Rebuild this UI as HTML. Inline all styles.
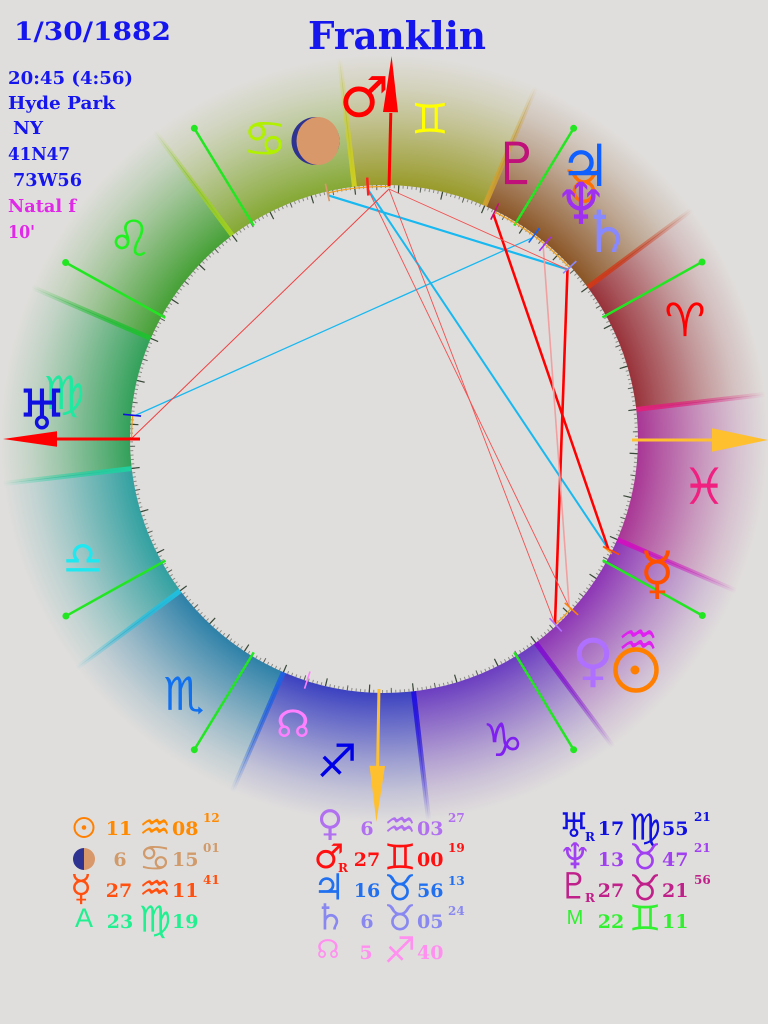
<!DOCTYPE html>
<html><head><meta charset="utf-8">
<style>
html,body{margin:0;padding:0;background:#e0dedc;}
svg{display:block}
.s{font-family:"DejaVu Serif","Liberation Serif",serif;font-weight:bold}
.g{font-family:"DejaVu Sans","Liberation Sans",sans-serif}
</style></head><body>
<svg width="768" height="1024" viewBox="0 0 768 1024" xmlns="http://www.w3.org/2000/svg">
<defs>
<radialGradient id="r0" gradientUnits="userSpaceOnUse" cx="384" cy="438" r="392"><stop offset=".645" stop-color="#983038"/><stop offset=".70" stop-color="#983038" stop-opacity=".8"/><stop offset=".76" stop-color="#983038" stop-opacity=".6"/><stop offset=".82" stop-color="#983038" stop-opacity=".4"/><stop offset=".90" stop-color="#983038" stop-opacity=".17"/><stop offset=".98" stop-color="#983038" stop-opacity="0"/></radialGradient>
<radialGradient id="r1" gradientUnits="userSpaceOnUse" cx="384" cy="438" r="392"><stop offset=".645" stop-color="#8a5424"/><stop offset=".70" stop-color="#8a5424" stop-opacity=".8"/><stop offset=".76" stop-color="#8a5424" stop-opacity=".6"/><stop offset=".82" stop-color="#8a5424" stop-opacity=".4"/><stop offset=".90" stop-color="#8a5424" stop-opacity=".17"/><stop offset=".98" stop-color="#8a5424" stop-opacity="0"/></radialGradient>
<radialGradient id="r2" gradientUnits="userSpaceOnUse" cx="384" cy="438" r="392"><stop offset=".645" stop-color="#989a28"/><stop offset=".70" stop-color="#989a28" stop-opacity=".8"/><stop offset=".76" stop-color="#989a28" stop-opacity=".6"/><stop offset=".82" stop-color="#989a28" stop-opacity=".4"/><stop offset=".90" stop-color="#989a28" stop-opacity=".17"/><stop offset=".98" stop-color="#989a28" stop-opacity="0"/></radialGradient>
<radialGradient id="r3" gradientUnits="userSpaceOnUse" cx="384" cy="438" r="392"><stop offset=".645" stop-color="#84a832"/><stop offset=".70" stop-color="#84a832" stop-opacity=".8"/><stop offset=".76" stop-color="#84a832" stop-opacity=".6"/><stop offset=".82" stop-color="#84a832" stop-opacity=".4"/><stop offset=".90" stop-color="#84a832" stop-opacity=".17"/><stop offset=".98" stop-color="#84a832" stop-opacity="0"/></radialGradient>
<radialGradient id="r4" gradientUnits="userSpaceOnUse" cx="384" cy="438" r="392"><stop offset=".645" stop-color="#44a034"/><stop offset=".70" stop-color="#44a034" stop-opacity=".8"/><stop offset=".76" stop-color="#44a034" stop-opacity=".6"/><stop offset=".82" stop-color="#44a034" stop-opacity=".4"/><stop offset=".90" stop-color="#44a034" stop-opacity=".17"/><stop offset=".98" stop-color="#44a034" stop-opacity="0"/></radialGradient>
<radialGradient id="r5" gradientUnits="userSpaceOnUse" cx="384" cy="438" r="392"><stop offset=".645" stop-color="#30a058"/><stop offset=".70" stop-color="#30a058" stop-opacity=".8"/><stop offset=".76" stop-color="#30a058" stop-opacity=".6"/><stop offset=".82" stop-color="#30a058" stop-opacity=".4"/><stop offset=".90" stop-color="#30a058" stop-opacity=".17"/><stop offset=".98" stop-color="#30a058" stop-opacity="0"/></radialGradient>
<radialGradient id="r6" gradientUnits="userSpaceOnUse" cx="384" cy="438" r="392"><stop offset=".645" stop-color="#30a0a0"/><stop offset=".70" stop-color="#30a0a0" stop-opacity=".8"/><stop offset=".76" stop-color="#30a0a0" stop-opacity=".6"/><stop offset=".82" stop-color="#30a0a0" stop-opacity=".4"/><stop offset=".90" stop-color="#30a0a0" stop-opacity=".17"/><stop offset=".98" stop-color="#30a0a0" stop-opacity="0"/></radialGradient>
<radialGradient id="r7" gradientUnits="userSpaceOnUse" cx="384" cy="438" r="392"><stop offset=".645" stop-color="#2c80a8"/><stop offset=".70" stop-color="#2c80a8" stop-opacity=".8"/><stop offset=".76" stop-color="#2c80a8" stop-opacity=".6"/><stop offset=".82" stop-color="#2c80a8" stop-opacity=".4"/><stop offset=".90" stop-color="#2c80a8" stop-opacity=".17"/><stop offset=".98" stop-color="#2c80a8" stop-opacity="0"/></radialGradient>
<radialGradient id="r8" gradientUnits="userSpaceOnUse" cx="384" cy="438" r="392"><stop offset=".645" stop-color="#3a40c0"/><stop offset=".70" stop-color="#3a40c0" stop-opacity=".8"/><stop offset=".76" stop-color="#3a40c0" stop-opacity=".6"/><stop offset=".82" stop-color="#3a40c0" stop-opacity=".4"/><stop offset=".90" stop-color="#3a40c0" stop-opacity=".17"/><stop offset=".98" stop-color="#3a40c0" stop-opacity="0"/></radialGradient>
<radialGradient id="r9" gradientUnits="userSpaceOnUse" cx="384" cy="438" r="392"><stop offset=".645" stop-color="#6a3cc0"/><stop offset=".70" stop-color="#6a3cc0" stop-opacity=".8"/><stop offset=".76" stop-color="#6a3cc0" stop-opacity=".6"/><stop offset=".82" stop-color="#6a3cc0" stop-opacity=".4"/><stop offset=".90" stop-color="#6a3cc0" stop-opacity=".17"/><stop offset=".98" stop-color="#6a3cc0" stop-opacity="0"/></radialGradient>
<radialGradient id="r10" gradientUnits="userSpaceOnUse" cx="384" cy="438" r="392"><stop offset=".645" stop-color="#8c34b4"/><stop offset=".70" stop-color="#8c34b4" stop-opacity=".8"/><stop offset=".76" stop-color="#8c34b4" stop-opacity=".6"/><stop offset=".82" stop-color="#8c34b4" stop-opacity=".4"/><stop offset=".90" stop-color="#8c34b4" stop-opacity=".17"/><stop offset=".98" stop-color="#8c34b4" stop-opacity="0"/></radialGradient>
<radialGradient id="r11" gradientUnits="userSpaceOnUse" cx="384" cy="438" r="392"><stop offset=".645" stop-color="#a83494"/><stop offset=".70" stop-color="#a83494" stop-opacity=".8"/><stop offset=".76" stop-color="#a83494" stop-opacity=".6"/><stop offset=".82" stop-color="#a83494" stop-opacity=".4"/><stop offset=".90" stop-color="#a83494" stop-opacity=".17"/><stop offset=".98" stop-color="#a83494" stop-opacity="0"/></radialGradient>

<radialGradient id="s0" gradientUnits="userSpaceOnUse" cx="384" cy="438" r="392"><stop offset=".64" stop-color="#e0207a"/><stop offset=".75" stop-color="#e0207a" stop-opacity=".75"/><stop offset=".86" stop-color="#e0207a" stop-opacity=".4"/><stop offset=".98" stop-color="#e0207a" stop-opacity="0"/></radialGradient>
<radialGradient id="s1" gradientUnits="userSpaceOnUse" cx="384" cy="438" r="392"><stop offset=".64" stop-color="#d03818"/><stop offset=".75" stop-color="#d03818" stop-opacity=".75"/><stop offset=".86" stop-color="#d03818" stop-opacity=".4"/><stop offset=".98" stop-color="#d03818" stop-opacity="0"/></radialGradient>
<radialGradient id="s2" gradientUnits="userSpaceOnUse" cx="384" cy="438" r="392"><stop offset=".64" stop-color="#d0a030"/><stop offset=".75" stop-color="#d0a030" stop-opacity=".75"/><stop offset=".86" stop-color="#d0a030" stop-opacity=".4"/><stop offset=".98" stop-color="#d0a030" stop-opacity="0"/></radialGradient>
<radialGradient id="s3" gradientUnits="userSpaceOnUse" cx="384" cy="438" r="392"><stop offset=".64" stop-color="#d0d020"/><stop offset=".75" stop-color="#d0d020" stop-opacity=".75"/><stop offset=".86" stop-color="#d0d020" stop-opacity=".4"/><stop offset=".98" stop-color="#d0d020" stop-opacity="0"/></radialGradient>
<radialGradient id="s4" gradientUnits="userSpaceOnUse" cx="384" cy="438" r="392"><stop offset=".64" stop-color="#a0d020"/><stop offset=".75" stop-color="#a0d020" stop-opacity=".75"/><stop offset=".86" stop-color="#a0d020" stop-opacity=".4"/><stop offset=".98" stop-color="#a0d020" stop-opacity="0"/></radialGradient>
<radialGradient id="s5" gradientUnits="userSpaceOnUse" cx="384" cy="438" r="392"><stop offset=".64" stop-color="#20c030"/><stop offset=".75" stop-color="#20c030" stop-opacity=".75"/><stop offset=".86" stop-color="#20c030" stop-opacity=".4"/><stop offset=".98" stop-color="#20c030" stop-opacity="0"/></radialGradient>
<radialGradient id="s6" gradientUnits="userSpaceOnUse" cx="384" cy="438" r="392"><stop offset=".64" stop-color="#20d0a0"/><stop offset=".75" stop-color="#20d0a0" stop-opacity=".75"/><stop offset=".86" stop-color="#20d0a0" stop-opacity=".4"/><stop offset=".98" stop-color="#20d0a0" stop-opacity="0"/></radialGradient>
<radialGradient id="s7" gradientUnits="userSpaceOnUse" cx="384" cy="438" r="392"><stop offset=".64" stop-color="#20c0e0"/><stop offset=".75" stop-color="#20c0e0" stop-opacity=".75"/><stop offset=".86" stop-color="#20c0e0" stop-opacity=".4"/><stop offset=".98" stop-color="#20c0e0" stop-opacity="0"/></radialGradient>
<radialGradient id="s8" gradientUnits="userSpaceOnUse" cx="384" cy="438" r="392"><stop offset=".64" stop-color="#2060e0"/><stop offset=".75" stop-color="#2060e0" stop-opacity=".75"/><stop offset=".86" stop-color="#2060e0" stop-opacity=".4"/><stop offset=".98" stop-color="#2060e0" stop-opacity="0"/></radialGradient>
<radialGradient id="s9" gradientUnits="userSpaceOnUse" cx="384" cy="438" r="392"><stop offset=".64" stop-color="#2010e0"/><stop offset=".75" stop-color="#2010e0" stop-opacity=".75"/><stop offset=".86" stop-color="#2010e0" stop-opacity=".4"/><stop offset=".98" stop-color="#2010e0" stop-opacity="0"/></radialGradient>
<radialGradient id="s10" gradientUnits="userSpaceOnUse" cx="384" cy="438" r="392"><stop offset=".64" stop-color="#8010d0"/><stop offset=".75" stop-color="#8010d0" stop-opacity=".75"/><stop offset=".86" stop-color="#8010d0" stop-opacity=".4"/><stop offset=".98" stop-color="#8010d0" stop-opacity="0"/></radialGradient>
<radialGradient id="s11" gradientUnits="userSpaceOnUse" cx="384" cy="438" r="392"><stop offset=".64" stop-color="#d010c0"/><stop offset=".75" stop-color="#d010c0" stop-opacity=".75"/><stop offset=".86" stop-color="#d010c0" stop-opacity=".4"/><stop offset=".98" stop-color="#d010c0" stop-opacity="0"/></radialGradient>
</defs>

<rect width="768" height="1024" fill="#e0dedc"/>

<g transform="translate(0,1)">
<!-- sign sectors -->
<path d="M384,438 L773.34,392.40 A392,392 0 0 0 698.38,203.84 Z" fill="url(#r0)" stroke="url(#r0)" stroke-width="0.8"/>
<path d="M384,438 L698.38,203.84 A392,392 0 0 0 539.18,78.02 Z" fill="url(#r1)" stroke="url(#r1)" stroke-width="0.8"/>
<path d="M384,438 L539.18,78.02 A392,392 0 0 0 338.40,48.66 Z" fill="url(#r2)" stroke="url(#r2)" stroke-width="0.8"/>
<path d="M384,438 L338.40,48.66 A392,392 0 0 0 149.84,123.62 Z" fill="url(#r3)" stroke="url(#r3)" stroke-width="0.8"/>
<path d="M384,438 L149.84,123.62 A392,392 0 0 0 24.02,282.82 Z" fill="url(#r4)" stroke="url(#r4)" stroke-width="0.8"/>
<path d="M384,438 L24.02,282.82 A392,392 0 0 0 -5.34,483.60 Z" fill="url(#r5)" stroke="url(#r5)" stroke-width="0.8"/>
<path d="M384,438 L-5.34,483.60 A392,392 0 0 0 69.62,672.16 Z" fill="url(#r6)" stroke="url(#r6)" stroke-width="0.8"/>
<path d="M384,438 L69.62,672.16 A392,392 0 0 0 228.82,797.98 Z" fill="url(#r7)" stroke="url(#r7)" stroke-width="0.8"/>
<path d="M384,438 L228.82,797.98 A392,392 0 0 0 429.60,827.34 Z" fill="url(#r8)" stroke="url(#r8)" stroke-width="0.8"/>
<path d="M384,438 L429.60,827.34 A392,392 0 0 0 618.16,752.38 Z" fill="url(#r9)" stroke="url(#r9)" stroke-width="0.8"/>
<path d="M384,438 L618.16,752.38 A392,392 0 0 0 743.98,593.18 Z" fill="url(#r10)" stroke="url(#r10)" stroke-width="0.8"/>
<path d="M384,438 L743.98,593.18 A392,392 0 0 0 773.34,392.40 Z" fill="url(#r11)" stroke="url(#r11)" stroke-width="0.8"/>

<!-- sign boundary streaks -->
<g stroke-width="5" stroke-linecap="butt">
<line x1="636.28" y1="408.45" x2="766.39" y2="393.22" stroke="url(#s0)"/>
<line x1="587.70" y1="286.27" x2="692.76" y2="208.02" stroke="url(#s1)"/>
<line x1="484.55" y1="204.75" x2="536.41" y2="84.45" stroke="url(#s2)"/>
<line x1="354.45" y1="185.72" x2="339.22" y2="55.61" stroke="url(#s3)"/>
<line x1="232.27" y1="234.30" x2="154.02" y2="129.24" stroke="url(#s4)"/>
<line x1="150.75" y1="337.45" x2="30.45" y2="285.59" stroke="url(#s5)"/>
<line x1="131.72" y1="467.55" x2="1.61" y2="482.78" stroke="url(#s6)"/>
<line x1="180.30" y1="589.73" x2="75.24" y2="667.98" stroke="url(#s7)"/>
<line x1="283.45" y1="671.25" x2="231.59" y2="791.55" stroke="url(#s8)"/>
<line x1="413.55" y1="690.28" x2="428.78" y2="820.39" stroke="url(#s9)"/>
<line x1="535.73" y1="641.70" x2="613.98" y2="746.76" stroke="url(#s10)"/>
<line x1="617.25" y1="538.55" x2="737.55" y2="590.41" stroke="url(#s11)"/>
</g>

<!-- inner disc -->
<circle cx="384" cy="438" r="254" fill="#e0dedc"/>

<!-- degree ticks -->
<circle cx="384" cy="438" r="252.5" fill="none" stroke="#8a8a84" stroke-width="3" stroke-dasharray="1 3.40695" stroke-dashoffset="-0.9102"/>
<circle cx="384" cy="438" r="251.5" fill="none" stroke="#5a625a" stroke-width="5" stroke-dasharray="1 20.947" stroke-dashoffset="-14.073"/>
<circle cx="384" cy="438" r="250" fill="none" stroke="#3a4a3a" stroke-width="8" stroke-dasharray="1.2 42.433" stroke-dashoffset="-13.886"/>

<!-- house cusps -->
<g stroke="#22e622" stroke-width="2.5">
<line x1="602.45" y1="316.41" x2="702.06" y2="260.97"/>
<line x1="514.25" y1="224.61" x2="573.65" y2="127.31"/>
<line x1="253.75" y1="224.61" x2="194.35" y2="127.31"/>
<line x1="165.35" y1="316.80" x2="65.64" y2="261.53"/>
<line x1="165.55" y1="559.59" x2="65.94" y2="615.03"/>
<line x1="253.75" y1="651.39" x2="194.35" y2="748.69"/>
<line x1="514.25" y1="651.39" x2="573.65" y2="748.69"/>
<line x1="602.65" y1="559.20" x2="702.36" y2="614.47"/>
</g>
<g fill="#22e622">
<circle cx="702.06" cy="260.97" r="3.5"/>
<circle cx="573.65" cy="127.31" r="3.5"/>
<circle cx="194.35" cy="127.31" r="3.5"/>
<circle cx="65.64" cy="261.53" r="3.5"/>
<circle cx="65.94" cy="615.03" r="3.5"/>
<circle cx="194.35" cy="748.69" r="3.5"/>
<circle cx="573.65" cy="748.69" r="3.5"/>
<circle cx="702.36" cy="614.47" r="3.5"/>
</g>

<!-- orange orb arcs -->
<g fill="none" stroke="#f0a020" stroke-width="1.3">
<path d="M389.02,185.55 A252.5,252.5 0 0 0 327.5,191.9"/>
<path d="M569.38,266.57 A252.5,252.5 0 0 0 494.53,210.98"/>
<path d="M132.62,414.24 A252.5,252.5 0 0 0 131.5,438"/>
<path d="M555.33,623.48 A252.5,252.5 0 0 0 571.08,607.58"/>
<path d="M603.05,545.49 L612,553"/>
</g>

<!-- aspect lines -->
<line x1="328.1" y1="194.3" x2="567.5" y2="268.3" stroke="#18b8f0" stroke-width="2.2"/>
<line x1="368" y1="188.5" x2="608.4" y2="548.1" stroke="#18b8f0" stroke-width="2"/>
<line x1="135.1" y1="414.5" x2="532.3" y2="236.8" stroke="#18b8f0" stroke-width="1.3"/>
<line x1="131" y1="438" x2="389" y2="188" stroke="#f04040" stroke-width="1"/>
<line x1="493.4" y1="213.2" x2="608.4" y2="548.1" stroke="#ff0000" stroke-width="2.5"/>
<line x1="567.5" y1="268.3" x2="555" y2="623" stroke="#ff0000" stroke-width="2.6"/>
<line x1="543.2" y1="245.2" x2="569.2" y2="605.9" stroke="#f0a0a0" stroke-width="1.6"/>
<line x1="389" y1="188" x2="555" y2="623" stroke="#f05050" stroke-width="0.9"/>
<line x1="368" y1="188.5" x2="569.2" y2="605.9" stroke="#f05050" stroke-width="0.9"/>
<line x1="389" y1="188" x2="567.5" y2="268.3" stroke="#f05050" stroke-width="0.9"/>

<!-- planet markers -->
<g stroke-width="1.6">
<line x1="329.40" y1="200.19" x2="325.37" y2="182.64" stroke="#d8986a"/>
<line x1="368.34" y1="194.50" x2="367.18" y2="176.54" stroke="#ff2020" stroke-width="2.5"/>
<line x1="490.81" y1="218.62" x2="498.69" y2="202.44" stroke="#c0107a"/>
<line x1="528.76" y1="241.58" x2="539.44" y2="227.09" stroke="#1060ff"/>
<line x1="539.34" y1="249.83" x2="550.80" y2="235.95" stroke="#a030f0"/>
<line x1="563.14" y1="272.34" x2="576.36" y2="260.12" stroke="#8888ff"/>
<line x1="141.08" y1="415.04" x2="123.16" y2="413.34" stroke="#1010e0"/>
<line x1="603.05" y1="545.49" x2="619.21" y2="553.42" stroke="#ff5000"/>
<line x1="564.78" y1="601.87" x2="578.12" y2="613.96" stroke="#ff8000"/>
<line x1="549.57" y1="617.23" x2="561.78" y2="630.45" stroke="#b070ff"/>
<line x1="310.02" y1="670.51" x2="304.56" y2="687.67" stroke="#ff80ff"/>
<line x1="126" y1="438" x2="140" y2="438" stroke="#ff0000" stroke-width="3"/>
</g>

<!-- angle arrows -->
<line x1="389.05" y1="185" x2="390.8" y2="112" stroke="#ff0000" stroke-width="3"/>
<polygon points="391.6,55.1 383,111 398,111.3" fill="#ff0000"/>
<line x1="130" y1="438" x2="40" y2="438" stroke="#ff0000" stroke-width="3"/>
<polygon points="3,438 57,430.2 57,445.8" fill="#ff0000"/>
<line x1="632" y1="439" x2="715" y2="439" stroke="#ffc030" stroke-width="3"/>
<polygon points="768,439 712,427.3 712,450.7" fill="#ffc030"/>
<line x1="378.95" y1="688" x2="377.6" y2="766" stroke="#ffc030" stroke-width="3"/>
<polygon points="376.4,820.9 369.5,764.8 385,765" fill="#ffc030"/>
</g>

<!-- zodiac glyphs -->
<g class="g" font-size="46" text-anchor="middle" dominant-baseline="central" font-weight="bold">
<text x="685" y="320" fill="#ff0000">&#x2648;&#xFE0E;</text>
<text x="584" y="187" fill="#ff7000">&#x2649;&#xFE0E;</text>
<text x="430" y="119" fill="#ffff00" font-size="42">&#x264A;&#xFE0E;</text>
<text x="265" y="139" fill="#b0f000" font-size="50">&#x264B;&#xFE0E;</text>
<text x="130" y="239" fill="#20f020" font-size="50">&#x264C;&#xFE0E;</text>
<text x="64" y="393" fill="#20e8a0">&#x264D;&#xFE0E;</text>
<text x="83" y="558" fill="#20e8f0">&#x264E;&#xFE0E;</text>
<text x="184" y="694" fill="#1070f0">&#x264F;&#xFE0E;</text>
<text x="337" y="761" fill="#0000e8">&#x2650;&#xFE0E;</text>
<text x="503" y="740" fill="#8020f0">&#x2651;&#xFE0E;</text>
<text x="638" y="640" fill="#e020f0">&#x2652;&#xFE0E;</text>
<text x="704" y="487" fill="#f02080" font-size="50">&#x2653;&#xFE0E;</text>
</g>

<!-- planet glyphs -->
<g class="g" font-size="58" text-anchor="middle" dominant-baseline="central" font-weight="bold">
<text x="364" y="98" fill="#ff0000" font-size="56">&#x2642;&#xFE0E;</text>
<text x="517" y="164" fill="#c0107a">&#x2647;&#xFE0E;</text>
<text x="585" y="166" fill="#1060ff">&#x2643;&#xFE0E;</text>
<text x="581" y="204" fill="#a030f0">&#x2646;&#xFE0E;</text>
<text x="607" y="232" fill="#8888ff">&#x2644;&#xFE0E;</text>
<text x="657" y="573" fill="#ff5000">&#x263F;&#xFE0E;</text>
<text x="593" y="660" fill="#b070ff">&#x2640;&#xFE0E;</text>
<text x="293" y="724" fill="#ff80ff" font-size="38">&#x260A;&#xFE0E;</text>
<text x="42" y="411" fill="#1010e0" font-size="56">&#x2645;&#xFE0E;</text>
</g>
<!-- moon -->
<circle cx="315.5" cy="141" r="24" fill="#2e3290"/>
<ellipse cx="318" cy="141" rx="21.5" ry="24" fill="#d8986a"/>
<!-- sun -->
<circle cx="636" cy="670" r="20.5" fill="none" stroke="#ff8000" stroke-width="4.5"/>
<circle cx="635" cy="670" r="4.5" fill="#ff8000"/>

<!-- header text -->
<text class="s" x="14" y="40" font-size="25" textLength="157" lengthAdjust="spacingAndGlyphs" fill="#1515ee">1/30/1882</text>
<text class="s" x="308" y="49" font-size="38" textLength="178" lengthAdjust="spacingAndGlyphs" fill="#1515ee">Franklin</text>
<g class="s" font-size="18" fill="#1515ee">
<text x="8" y="84" textLength="125" lengthAdjust="spacingAndGlyphs">20:45 (4:56)</text>
<text x="8" y="109" textLength="107" lengthAdjust="spacingAndGlyphs">Hyde Park</text>
<text x="13" y="134" textLength="30" lengthAdjust="spacingAndGlyphs">NY</text>
<text x="8" y="160" textLength="62" lengthAdjust="spacingAndGlyphs">41N47</text>
<text x="13" y="186" textLength="69" lengthAdjust="spacingAndGlyphs">73W56</text>
<text x="8" y="212" textLength="68" lengthAdjust="spacingAndGlyphs" fill="#e028e8">Natal f</text>
<text x="8" y="238" textLength="27" lengthAdjust="spacingAndGlyphs" fill="#e028e8">10'</text>
</g>

<!-- table: left column -->
<circle cx="84" cy="827.5" r="9.5" fill="none" stroke="#ff8000" stroke-width="2"/>
<circle cx="84" cy="827.5" r="2.3" fill="#ff8000"/>
<path d="M84,848 A11,11 0 0 0 84,870 Z" fill="#2e3290"/>
<path d="M84,848 A11,11 0 0 1 84,870 Z" fill="#d8986a"/>
<g class="g" text-anchor="middle" dominant-baseline="central" font-size="36" font-weight="bold">
<text x="81" y="889" fill="#ff5010">&#x263F;&#xFE0E;</text>
<text x="155" y="828" fill="#ff8a00">&#x2652;&#xFE0E;</text>
<text x="155" y="859" fill="#d09a6a">&#x264B;&#xFE0E;</text>
<text x="155" y="889" fill="#ff5010">&#x2652;&#xFE0E;</text>
<text x="155" y="920" fill="#20f090">&#x264D;&#xFE0E;</text>
</g>
<text x="84" y="927" font-family="Liberation Sans, sans-serif" font-size="27" text-anchor="middle" fill="#20f090">A</text>
<g class="s" font-size="19">
<text x="119" y="835" text-anchor="middle" fill="#ff8a00">11</text>
<text x="172" y="835" fill="#ff8a00">08</text>
<text x="203" y="822" font-size="12" fill="#ff8a00">12</text>
<text x="120" y="866" text-anchor="middle" fill="#d09a6a">6</text>
<text x="172" y="866" fill="#d09a6a">15</text>
<text x="203" y="852" font-size="12" fill="#d09a6a">01</text>
<text x="119" y="897" text-anchor="middle" fill="#ff5010">27</text>
<text x="172" y="897" fill="#ff5010">11</text>
<text x="203" y="884" font-size="12" fill="#ff5010">41</text>
<text x="120" y="928" text-anchor="middle" fill="#20f090">23</text>
<text x="172" y="928" fill="#20f090">19</text>
</g>

<!-- table: middle column -->
<g class="g" text-anchor="middle" dominant-baseline="central" font-size="36" font-weight="bold">
<text x="330" y="824" fill="#b070f0">&#x2640;&#xFE0E;</text>
<text x="329" y="857" fill="#ff1010" font-size="34">&#x2642;&#xFE0E;</text>
<text x="329" y="888" fill="#2070f0">&#x2643;&#xFE0E;</text>
<text x="330" y="918" fill="#8888f0">&#x2644;&#xFE0E;</text>
<text x="328" y="950" fill="#ff90f0" font-size="26">&#x260A;&#xFE0E;</text>
<text x="400" y="826" fill="#b070f0">&#x2652;&#xFE0E;</text>
<text x="400" y="858" fill="#ff1010">&#x264A;&#xFE0E;</text>
<text x="400" y="889" fill="#2070f0">&#x2649;&#xFE0E;</text>
<text x="400" y="919" fill="#8888f0">&#x2649;&#xFE0E;</text>
<text x="400" y="951" fill="#ff90f0">&#x2650;&#xFE0E;</text>
</g>
<g class="s" font-size="19">
<text x="338" y="872" font-size="12" fill="#ff1010">R</text>
<text x="367" y="835" text-anchor="middle" fill="#b070f0">6</text>
<text x="417" y="835" fill="#b070f0">03</text>
<text x="448" y="822" font-size="12" fill="#b070f0">27</text>
<text x="367" y="866" text-anchor="middle" fill="#ff1010">27</text>
<text x="417" y="866" fill="#ff1010">00</text>
<text x="448" y="852" font-size="12" fill="#ff1010">19</text>
<text x="367" y="897" text-anchor="middle" fill="#2070f0">16</text>
<text x="417" y="897" fill="#2070f0">56</text>
<text x="448" y="885" font-size="12" fill="#2070f0">13</text>
<text x="367" y="928" text-anchor="middle" fill="#8888f0">6</text>
<text x="417" y="928" fill="#8888f0">05</text>
<text x="448" y="915" font-size="12" fill="#8888f0">24</text>
<text x="366" y="959" text-anchor="middle" fill="#ff90f0">5</text>
<text x="417" y="959" fill="#ff90f0">40</text>
</g>

<!-- table: right column -->
<g class="g" text-anchor="middle" dominant-baseline="central" font-size="36" font-weight="bold">
<text x="574" y="826" fill="#1010e0" font-size="34">&#x2645;&#xFE0E;</text>
<text x="575" y="857" fill="#a040f0">&#x2646;&#xFE0E;</text>
<text x="574" y="887" fill="#c0208a">&#x2647;&#xFE0E;</text>
<text x="645" y="828" fill="#1010e0">&#x264D;&#xFE0E;</text>
<text x="645" y="858" fill="#a040f0">&#x2649;&#xFE0E;</text>
<text x="645" y="889" fill="#c0208a">&#x2649;&#xFE0E;</text>
<text x="645" y="919" fill="#30f030">&#x264A;&#xFE0E;</text>
</g>
<text x="575" y="924" font-family="Liberation Sans, sans-serif" font-size="20" text-anchor="middle" fill="#30f030">M</text>
<g class="s" font-size="19">
<text x="585" y="841" font-size="12" fill="#1010e0">R</text>
<text x="585" y="902" font-size="12" fill="#c0208a">R</text>
<text x="611" y="835" text-anchor="middle" fill="#1010e0">17</text>
<text x="662" y="835" fill="#1010e0">55</text>
<text x="694" y="821" font-size="12" fill="#1010e0">21</text>
<text x="611" y="866" text-anchor="middle" fill="#a040f0">13</text>
<text x="662" y="866" fill="#a040f0">47</text>
<text x="694" y="852" font-size="12" fill="#a040f0">21</text>
<text x="611" y="897" text-anchor="middle" fill="#c0208a">27</text>
<text x="662" y="897" fill="#c0208a">21</text>
<text x="694" y="884" font-size="12" fill="#c0208a">56</text>
<text x="611" y="928" text-anchor="middle" fill="#30f030">22</text>
<text x="662" y="928" fill="#30f030">11</text>
</g>
</svg>
</body></html>
